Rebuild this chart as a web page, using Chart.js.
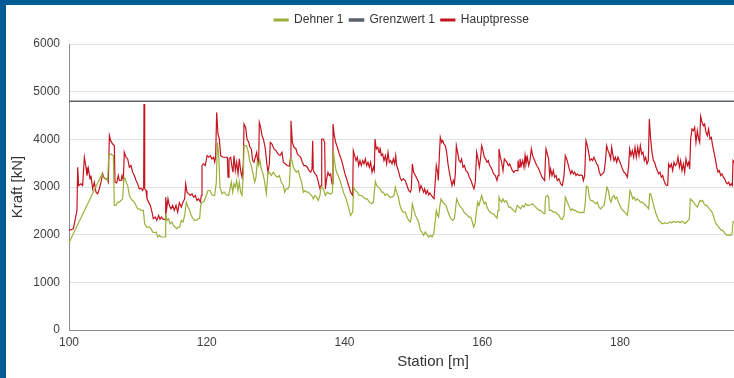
<!DOCTYPE html>
<html><head><meta charset="utf-8">
<script src="https://cdn.jsdelivr.net/npm/chart.js@4.4.1/dist/chart.umd.min.js"></script>
<style>
html,body{margin:0;padding:0;width:734px;height:378px;overflow:hidden;background:#005a94;}
#frame{position:absolute;left:6px;top:5px;width:792px;height:373px;background:#fff;}
canvas{display:block;}
</style></head><body>
<div id="frame"><canvas id="c" width="792" height="373"></canvas></div>
<script>
const seriesNames = ['Dehner 1', 'Grenzwert 1', 'Hauptpresse'];
const xTicks = [100, 120, 140, 160, 180, 200];
const yTicks = [0, 1000, 2000, 3000, 4000, 5000, 6000];

const grenzStation = [100, 205.7];
const grenzKraft = [4800, 4800];

const hauptStation = [
100.0,100.63,100.92,101.16,101.26,101.40,101.74,101.98,102.23,102.47,
102.61,102.81,103.05,103.19,103.44,103.68,103.92,104.16,104.40,104.65,
104.89,105.03,105.28,105.52,105.71,105.86,106.05,106.34,106.58,106.68,
106.92,107.16,107.31,107.55,107.70,107.89,108.03,108.28,108.52,108.76,
109.00,109.24,109.49,109.73,109.97,110.21,110.45,110.70,110.84,110.89,
110.99,111.18,111.32,111.57,111.81,112.05,112.24,112.53,112.73,113.02,
113.21,113.41,113.70,113.94,114.04,114.18,114.37,114.57,114.81,115.05,
115.29,115.54,115.78,116.02,
116.31,116.55,116.79,116.94,117.13,117.37,117.62,117.86,118.10,118.34,
118.58,118.83,119.07,119.21,119.31,119.55,119.79,120.04,120.28,120.52,
120.76,121.00,121.15,121.29,121.44,121.63,121.83,122.02,122.36,122.70,
122.99,123.09,123.23,123.47,123.67,123.81,123.96,124.15,124.34,124.54,
124.73,124.92,125.12,125.31,125.41,125.65,125.84,126.09,126.28,126.47,
126.67,126.86,127.05,127.25,127.39,127.54,127.63,127.83,128.02,128.22,
128.51,128.70,128.89,129.09,129.23,129.47,129.76,130.05,130.35,130.64,
130.93,131.12,131.41,131.70,131.99,132.15,
132.23,132.43,132.67,132.96,133.15,133.39,133.64,133.88,134.12,134.36,
134.60,134.85,135.09,135.28,135.38,135.47,135.72,135.96,136.20,136.44,
136.59,136.69,136.93,137.12,137.22,137.41,137.60,137.80,137.99,138.19,
138.33,138.52,138.72,138.96,139.25,139.59,139.83,140.07,140.31,140.60,
140.89,141.19,141.28,141.48,141.67,141.86,142.06,142.25,142.44,142.64,
142.83,143.02,143.22,143.41,143.61,143.80,143.99,144.19,144.33,144.43,
144.62,144.82,145.01,145.15,145.35,145.54,145.73,145.93,146.12,146.32,
146.51,146.70,146.90,147.09,147.28,147.43,147.57,147.82,148.06,148.30,
148.54,
148.83,149.07,149.32,149.56,149.70,149.85,150.04,150.29,150.53,150.77,
150.91,151.11,151.30,151.49,151.64,151.83,152.03,152.22,152.41,152.61,
152.80,153.00,153.19,153.33,153.53,153.62,153.77,153.91,154.11,154.25,
154.45,154.64,154.83,155.03,155.22,155.41,155.61,155.80,155.95,156.09,
156.24,156.43,156.63,156.82,157.01,157.20,157.40,157.64,157.88,158.12,
158.37,158.61,158.80,158.99,159.19,159.38,159.58,159.77,159.91,160.11,
160.30,160.50,160.69,160.88,161.08,161.27,161.46,161.66,161.90,162.14,
162.29,162.43,162.63,162.82,163.01,163.21,163.40,163.59,163.79,163.98,
164.17,164.37,164.56,164.80,
165.09,165.19,165.34,165.48,165.67,165.87,166.06,166.21,166.35,166.55,
166.74,166.93,167.13,167.32,167.51,167.71,167.90,168.09,168.29,168.48,
168.68,168.87,169.06,169.16,169.26,169.45,169.64,169.79,169.93,170.13,
170.32,170.51,170.71,170.90,171.14,171.39,171.63,171.87,172.06,172.26,
172.45,172.64,172.84,173.03,173.22,173.42,173.61,173.81,174.05,174.29,
174.53,174.68,174.87,175.06,175.26,175.45,175.64,175.84,176.03,176.22,
176.42,176.61,176.81,177.00,177.19,177.44,177.68,177.87,178.06,178.26,
178.45,178.64,178.79,178.94,179.13,179.32,179.52,179.71,179.90,180.10,
180.34,180.58,180.82,181.07,
181.26,181.40,181.60,181.79,181.98,182.18,182.37,182.57,182.76,182.95,
183.15,183.34,183.53,183.73,183.92,184.11,184.26,184.45,184.65,184.84,
185.03,185.23,185.42,185.61,185.81,186.00,186.20,186.39,186.58,186.78,
186.92,187.07,187.26,187.45,187.65,187.84,188.03,188.23,188.42,188.62,
188.81,189.00,189.20,189.39,189.58,189.78,189.97,190.12,190.26,190.45,
190.65,190.84,191.03,191.23,191.42,191.57,191.71,191.91,192.10,192.29,
192.49,192.68,192.87,193.07,193.26,193.45,193.65,193.84,194.04,194.23,
194.42,194.62,194.81,195.00,195.20,195.39,195.58,195.78,195.97,196.16,
196.31,196.41,196.55
];
const hauptKraft = [
2090,2125,2334,2508,3415,3031,3066,3031,3624,3415,
3240,3394,3171,3240,2961,3101,2892,2857,2961,3101,
3275,3205,3171,3171,3101,4077,3972,3902,3868,3101,
3087,3240,3136,3136,3240,3136,3728,3624,3589,3415,
3450,3310,3240,3136,3066,2961,2975,2927,2996,4739,
2961,2927,2752,2683,2613,2474,2334,2369,2299,2404,
2320,2369,2320,2320,2787,2543,2752,2613,2543,2613,
2508,2613,2474,2669,
2578,2683,2752,3066,2892,2857,2822,2857,2787,2822,
2717,2752,2683,2822,3450,3484,3450,3658,3624,3658,
3589,3624,3519,3624,4565,4112,4007,3658,3624,3624,
3624,3205,3589,3624,3415,3310,3658,3345,3519,3275,
3589,3345,3205,3484,4321,4251,4007,3937,3833,3798,
3554,3519,3624,3728,3554,3519,4356,4251,4077,4007,
3798,3519,3310,3484,3937,3902,3798,3763,3693,3658,
3728,3519,3484,3450,3436,3600,
4390,3937,3833,3798,3693,3658,3624,3519,3450,3450,
3415,3345,3310,3380,3972,3345,3275,3240,3101,2961,
3031,4007,4007,3937,2961,3171,3310,3240,3275,3066,
4321,4077,3937,3833,3693,3554,3415,3275,3171,3031,
2892,2822,3763,3658,3554,3624,3450,3554,3450,3554,
3484,3589,3450,3519,3415,3519,3310,3415,3345,4007,
3798,3833,3728,3833,3658,3693,3554,3658,3484,3728,
3519,3554,3484,3589,3484,3658,3450,3345,3205,3136,
3171,
3136,3031,2927,2892,2961,3484,3310,3240,3171,3101,
2927,3031,2961,2892,2961,2857,2927,2836,2878,2822,
2787,2752,3136,3450,3310,3136,3658,4042,3937,3972,
3902,3868,3728,3484,3310,3171,3031,3136,3066,3275,
3868,3728,3554,3519,3589,3415,3450,3345,3310,3205,
3136,3031,2961,3101,3728,3589,3415,3624,3868,3763,
3624,3589,3519,3554,3450,3415,3345,3275,3240,3136,
3240,3798,3624,3519,3345,3589,3554,3519,3450,3484,
3415,3345,3310,3345,
3345,3554,3415,3589,3450,3554,3415,3658,3484,3624,
3450,3554,3798,3658,3589,3519,3450,3415,3345,3275,
3205,3171,3136,3519,3798,3693,3589,3240,3380,3240,
3345,3205,3240,3136,3171,3066,3031,3240,3658,3589,
3484,3380,3275,3345,3275,3310,3240,3275,3240,3254,
3240,3136,3240,3972,3868,3728,3554,3589,3554,3624,
3554,3484,3450,3310,3240,3275,3310,3519,3868,3763,
3693,3589,3833,3693,3554,3624,3519,3624,3554,3484,
3380,3310,3275,3205,
3450,3798,3658,3763,3624,3833,3624,3833,3658,3868,
3693,3728,3554,3624,3484,3554,4425,4007,3728,3554,
3519,3415,3345,3275,3310,3205,3240,3136,3066,3031,
3031,3484,3415,3484,3345,3519,3450,3484,3624,3415,
3554,3345,3484,3310,3589,3450,3519,3380,4007,4216,
4181,4251,3937,4181,4007,3937,4481,4356,4286,4321,
4146,4077,4216,4007,4042,3868,3728,3589,3415,3310,
3345,3240,3275,3205,3171,3101,3066,3101,3031,3066,
3031,3554,3519
];

const dehnerStation = [
100.0,104.79,104.98,105.28,105.61,105.76,106.10,106.44,106.58,106.82,
107.07,107.31,107.55,107.79,107.99,108.18,108.37,108.52,108.76,109.00,
109.24,109.49,109.73,109.97,110.21,110.45,110.79,110.99,111.28,111.66,
111.91,112.15,112.39,112.63,112.87,113.12,113.36,113.60,113.94,114.04,
114.23,114.47,114.66,114.95,115.15,115.39,115.63,115.83,
116.07,116.31,116.55,116.79,117.04,117.28,117.52,117.76,118.00,118.25,
118.49,118.73,118.97,119.12,119.31,119.60,119.94,120.18,120.47,120.67,
120.91,121.15,121.39,121.54,121.73,121.92,122.21,122.51,122.84,123.18,
123.38,123.57,123.76,123.96,124.15,124.34,124.54,124.73,124.92,125.12,
125.31,125.41,125.75,125.99,126.23,126.47,126.72,126.96,127.15,127.34,
127.54,127.73,127.92,128.17,128.41,128.65,128.89,129.09,129.38,129.67,
129.96,130.25,130.54,130.83,131.12,131.31,131.55,131.80,131.99,
132.18,132.38,132.57,132.81,133.06,133.30,133.54,133.78,134.02,134.27,
134.51,134.75,134.99,135.23,135.48,135.72,135.96,136.20,136.44,136.59,
136.78,137.02,137.22,137.51,137.80,138.09,138.25,138.38,138.57,138.77,
139.06,139.35,139.64,139.93,140.22,140.51,140.70,140.89,141.04,141.19,
141.33,141.57,141.86,142.15,142.44,142.73,143.02,143.31,143.61,143.94,
144.19,144.33,144.48,144.67,144.91,145.15,145.40,145.64,145.88,146.12,
146.36,146.61,146.90,147.19,147.38,147.57,147.82,148.06,148.30,148.54,
148.83,149.07,149.32,149.56,149.70,149.85,150.04,150.29,150.53,150.77,
151.01,151.25,151.49,151.74,151.98,152.22,152.46,152.70,152.95,153.19,
153.33,153.53,153.67,153.82,154.01,154.25,154.50,154.74,154.98,155.22,
155.46,155.71,155.95,156.09,156.29,156.48,156.67,156.87,157.11,157.35,
157.59,157.84,158.08,158.32,158.56,158.75,158.95,159.14,159.34,159.53,
159.72,159.91,160.11,160.30,160.50,160.69,160.93,161.17,161.42,161.66,
161.90,162.14,162.29,162.43,162.63,162.82,163.01,163.21,163.40,163.59,
163.84,164.08,164.32,164.56,164.80,
165.09,165.34,165.58,165.82,166.06,166.30,166.55,166.79,167.03,167.27,
167.51,167.76,168.00,168.24,168.48,168.72,168.97,169.11,169.21,169.45,
169.64,169.74,170.03,170.32,170.61,170.90,171.14,171.39,171.63,171.87,
172.06,172.26,172.45,172.64,172.84,173.08,173.32,173.56,173.81,174.05,
174.29,174.53,174.77,174.97,175.11,175.35,175.55,175.74,175.98,176.22,
176.47,176.71,176.95,177.19,177.44,177.68,177.92,178.11,178.31,178.50,
178.69,178.89,179.13,179.32,179.52,179.76,180.00,180.19,180.44,180.68,
180.87,181.07,
181.26,181.45,181.65,181.84,182.03,182.27,182.52,182.76,183.00,183.24,
183.48,183.73,183.97,184.16,184.31,184.45,184.65,184.84,185.03,185.23,
185.42,185.61,185.81,186.05,186.29,186.53,186.78,187.02,187.26,187.50,
187.74,187.99,188.23,188.47,188.71,188.95,189.20,189.44,189.68,189.87,
190.07,190.21,190.45,190.65,190.84,191.03,191.23,191.42,191.62,191.81,
192.00,192.20,192.39,192.58,192.78,192.97,193.17,193.36,193.55,193.75,
193.94,194.13,194.33,194.52,194.71,194.91,195.10,195.29,195.49,195.68,
195.87,196.07,196.26,196.41,196.55
];
const dehnerKraft = [
1830,3275,3205,3171,3136,3658,3693,3658,2613,2613,
2683,2683,2717,2752,3205,3171,3066,3031,2822,2752,
2717,2683,2613,2543,2543,2508,2508,2230,2160,2160,
2125,2055,2041,2055,1951,1986,1951,1951,1951,2439,
2299,2334,2230,2265,2195,2160,2125,2160,
2160,2299,2265,2404,2683,2578,2508,2404,2334,2299,
2299,2334,2334,2613,2683,2697,2822,2927,2927,2857,
2822,2822,3101,3937,3693,2996,2857,2892,2836,2822,
2961,3101,2892,3066,2996,3136,2927,3101,2892,2822,
3240,3868,3868,3763,3554,3450,3275,3101,3205,3519,
3450,3554,3380,3275,3101,2857,3310,3310,3240,3310,
3240,3205,3240,3101,3031,2892,2961,2961,3031,
3589,3554,3415,3345,3310,3345,3205,3101,2892,2927,
2892,2892,2857,2822,2752,2822,2787,2717,2822,2996,
2996,2927,2822,2892,2857,2857,2892,3763,3519,3345,
3240,3136,2996,2857,2752,2613,2508,2404,2439,2474,
2996,2927,2892,2822,2822,2787,2752,2752,2683,2648,
2683,2892,3115,3031,2996,2961,2892,2892,2822,2857,
2822,2787,2787,2822,2996,2892,2787,2613,2508,2474,
2474,2369,2299,2265,2369,2648,2543,2404,2334,2265,
2090,2055,1986,2055,2000,1951,1986,1951,2020,2299,
2508,2404,2369,2578,2752,2683,2648,2613,2508,2404,
2334,2299,2334,2508,2752,2683,2613,2578,2543,2474,
2439,2404,2369,2369,2265,2160,2230,2474,2683,2613,
2717,2822,2717,2648,2683,2578,2508,2474,2439,2439,
2390,2348,2508,2787,2717,2683,2752,2683,2717,2683,
2578,2578,2543,2508,2474,
2613,2578,2543,2613,2578,2648,2613,2613,2627,2648,
2613,2578,2543,2508,2508,2474,2439,2613,2787,2822,
2787,2508,2508,2474,2474,2439,2404,2334,2320,2404,
2787,2717,2648,2578,2508,2543,2508,2508,2474,2474,
2460,2474,2460,2683,3017,2996,2787,2717,2717,2683,
2648,2683,2578,2543,2578,2613,2822,2996,2927,2752,
2683,2787,2822,2752,2787,2683,2613,2543,2508,2474,
2439,2404,
2613,2927,2857,2752,2787,2717,2752,2717,2683,2683,
2648,2613,2578,2543,2857,2857,2752,2648,2543,2439,
2369,2299,2278,2230,2230,2251,2230,2244,2265,2244,
2278,2265,2265,2278,2251,2278,2265,2230,2265,2299,
2334,2752,2717,2683,2648,2613,2578,2648,2717,2697,
2717,2648,2613,2613,2578,2543,2508,2474,2404,2299,
2230,2195,2160,2125,2090,2090,2055,2020,1986,2000,
1986,1986,2020,2265,2299
];

function pts(xs, ys) {
  const n = Math.min(xs.length, ys.length);
  if (xs.length !== ys.length) console.warn('length mismatch', xs.length, ys.length);
  const out = [];
  for (let i = 0; i < n; i++) out.push({ x: xs[i], y: ys[i] });
  return out;
}

const FONT = "'Liberation Sans', Arial, Helvetica, sans-serif";
Chart.defaults.font.family = FONT;
Chart.defaults.color = '#404040';

const legendSpacer = {
  id: 'legendSpacer',
  beforeInit(chart) {
    if (!chart.legend) return;
    const orig = chart.legend.fit;
    chart.legend.fit = function () { orig.call(this); this.height += 8; };
  }
};

const GREEN = '#9ab03a', GRAY = '#59616a', RED = '#c4141f';

new Chart(document.getElementById('c'), {
  type: 'line',
  data: {
    datasets: [
      { label: seriesNames[0], data: pts(dehnerStation, dehnerKraft), borderColor: GREEN, backgroundColor: GREEN, borderWidth: 1.2 },
      { label: seriesNames[1], data: pts(grenzStation, grenzKraft), borderColor: GRAY, backgroundColor: GRAY, borderWidth: 1.5 },
      { label: seriesNames[2], data: pts(hauptStation, hauptKraft), borderColor: RED, backgroundColor: RED, borderWidth: 1.2 }
    ]
  },
  plugins: [legendSpacer],
  options: {
    responsive: false,
    animation: false,
    devicePixelRatio: 1,
    parsing: false,
    normalized: true,
    elements: { point: { radius: 0, hoverRadius: 0 }, line: { tension: 0, fill: false } },
    layout: { padding: { top: 3, right: 1, left: 0, bottom: 0 } },
    plugins: {
      tooltip: { enabled: false },
      legend: {
        position: 'top', align: 'center',
        labels: { boxWidth: 14, boxHeight: 2, padding: 6, color: '#333', font: { size: 12, family: FONT } }
      }
    },
    scales: {
      x: {
        type: 'linear', min: 100, max: 205.7,
        afterBuildTicks: s => { s.ticks = xTicks.map(v => ({ value: v })); },
        afterFit: s => { s.height = 48; },
        grid: { display: false, drawTicks: false },
        border: { display: true, color: '#8c8c8c', width: 1 },
        ticks: { padding: 5, maxRotation: 0, color: '#404040', font: { size: 12 }, callback: v => String(v) },
        title: { display: true, text: 'Station [m]', color: '#333', font: { size: 15 }, padding: { top: 7, bottom: 7 } }
      },
      y: {
        type: 'linear', min: 0, max: 6000,
        afterBuildTicks: s => { s.ticks = yTicks.map(v => ({ value: v })); },
        afterFit: s => { s.width = 63; },
        grid: { color: '#e2e2e2', lineWidth: 1, drawTicks: false },
        border: { display: true, color: '#8c8c8c', width: 1 },
        ticks: { padding: 9, color: '#404040', font: { size: 12 }, callback: v => String(v) },
        title: { display: true, text: 'Kraft [kN]', color: '#333', font: { size: 15 }, padding: { top: 3, bottom: 3 } }
      }
    }
  }
});
</script>
</body></html>
